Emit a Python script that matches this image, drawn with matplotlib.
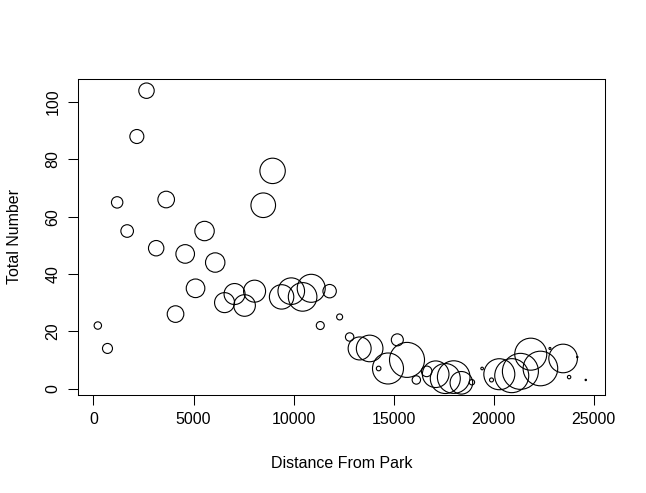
import matplotlib
matplotlib.use("Agg")
import matplotlib.pyplot as plt
import numpy as np

plt.rcParams['font.family'] = ['Liberation Sans', 'DejaVu Sans']

# Distance from park (x), total number (y), bubble radius (third variable, in px of the reference)
distance = [217, 700, 1183, 1683, 2167, 2650, 3133, 3633, 4100, 4583,
            5100, 5550, 6083, 6550, 7050, 7550, 8050, 8483, 8950, 9400,
            9883, 10450, 10880, 11333, 11800, 12300, 12800, 13300, 13800, 14250,
            14717, 15183, 15667, 16133, 16650, 17100, 17580, 18000, 18383, 18910,
            19420, 19890, 20280, 20900, 21333, 21850, 22333, 22810, 23467, 23767,
            24175, 24600]
total = [22, 14, 65, 55, 88, 104, 49, 66, 26, 47,
         35, 55, 44, 30, 33, 29, 34, 64, 76, 32,
         34, 32, 35, 22, 34, 25, 18, 14, 14, 7,
         7, 17, 10, 3, 6, 5, 3.5, 4, 2, 2.2,
         7, 3, 5, 4.5, 6, 12, 7, 14, 10.5, 4,
         11, 3]
radius = [3.7, 5, 5.7, 6.3, 7, 7.7, 7.7, 8.3, 8.3, 9.3,
          9.3, 9.7, 9.7, 10, 10.5, 10.8, 11, 12.3, 12.7, 12.2,
          13.3, 14.3, 14, 4, 6.7, 3, 4.2, 11.5, 13.3, 2.3,
          15.5, 6, 17.5, 4.2, 5.3, 13.3, 15, 16.3, 11.3, 2.7,
          1.3, 2, 15.5, 17, 18, 16, 17.3, 1, 14.3, 1.7,
          0.7, 0.7]

xticks = [0, 5000, 10000, 15000, 20000, 25000]
yticks = [0, 20, 40, 60, 80, 100]

W, H, DPI = 646, 493, 100
FS = 11.5
fig = plt.figure(figsize=(W / DPI, H / DPI), dpi=DPI)
left, right, top, bottom = 78.3, 605.3, 79.0, 394.5
ax = fig.add_axes([left / W, 1 - bottom / H, (right - left) / W, (bottom - top) / H])

px2pt = 72.0 / DPI
sizes = [(2 * r * px2pt) ** 2 for r in radius]
ax.scatter(distance, total, s=sizes, facecolors='none', edgecolors='black',
           linewidths=0.8, clip_on=False, zorder=3)

xmin, xmax = min(distance), max(distance)
ymin, ymax = min(total), max(total)
dx, dy = (xmax - xmin) * 0.04, (ymax - ymin) * 0.04
ax.set_xlim(xmin - dx, xmax + dx)
ax.set_ylim(ymin - dy, ymax + dy)

ax.set_xticks(xticks)
ax.set_yticks(yticks)
ax.set_xticklabels([str(t) for t in xticks])
ax.set_yticklabels([str(t) for t in yticks], rotation=90, va='center')
ax.tick_params(direction='out', length=6.9, width=0.75, labelsize=FS, colors='black')
ax.tick_params(axis='x', pad=5.5)
ax.tick_params(axis='y', pad=6.0)
for sp in ax.spines.values():
    sp.set_linewidth(0.75)
    sp.set_color('black')

fig.text((left + right) / 2 / W, 1 - 463 / H, 'Distance From Park', fontsize=FS,
         ha='center', va='center')
fig.text(15 / W, 1 - (top + bottom) / 2 / H, 'Total Number', fontsize=FS,
         ha='center', va='center', rotation=90)

fig.savefig('out.png', dpi=DPI)
